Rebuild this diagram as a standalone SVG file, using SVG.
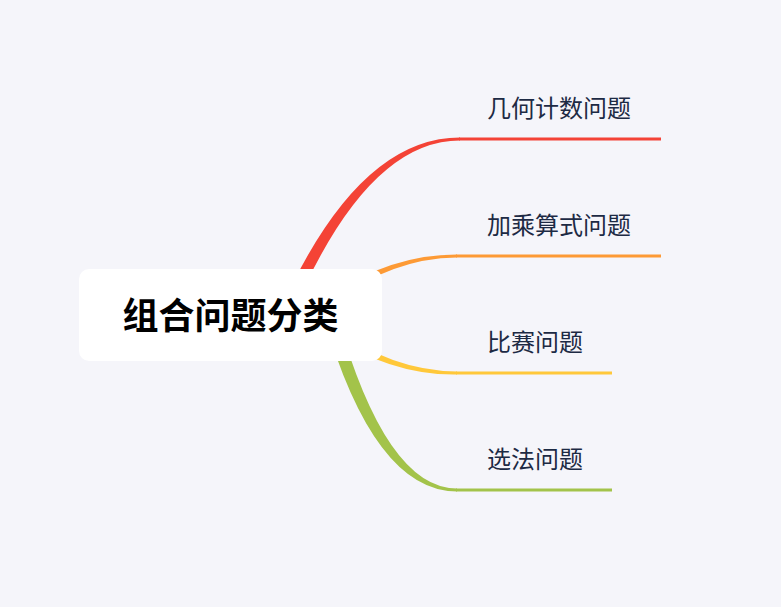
<svg xmlns="http://www.w3.org/2000/svg" width="781" height="607" viewBox="0 0 781 607">
<style>
.lbl{font-family:"Noto Sans CJK SC","Noto Sans",sans-serif;font-size:24px;fill:#1d2a44}
.title{font-family:"Noto Sans CJK SC","Noto Sans",sans-serif;font-size:36px;font-weight:bold;fill:#000}
.ln{stroke-width:3;fill:none}
</style>
<rect width="781" height="607" fill="#f5f5fa"/>
<g id="connectors">
<path d="M278 315 Q356 137.5 460 137.5 L460 140.5 Q366 140.5 292 315 Z" fill="#f44336"/>
<line class="ln" x1="459" y1="139" x2="661" y2="139" stroke="#f44336"/>
<path d="M330 296 Q390 254.5 457 254.5 L457 257.5 Q392 258 330 304 Z" fill="#fd9a35"/>
<line class="ln" x1="456" y1="256" x2="661" y2="256" stroke="#fd9a35"/>
<path d="M330 326 Q392 371 457 371.5 L457 374.5 Q390 375.5 330 334 Z" fill="#ffc83a"/>
<line class="ln" x1="456" y1="373" x2="612" y2="373" stroke="#ffc83a"/>
<path d="M323 315 Q374 491.5 457 491.5 L457 488.5 Q386 488.5 337 315 Z" fill="#a3c34a"/>
<line class="ln" x1="456" y1="490" x2="612" y2="490" stroke="#a3c34a"/>
</g>
<g id="root">
<rect x="79" y="269" width="303" height="92" rx="10" fill="#ffffff"/>
<text class="title" x="230.5" y="329" text-anchor="middle">组合问题分类</text>
</g>
<g id="n1"><text class="lbl" x="487" y="117">几何计数问题</text></g>
<g id="n2"><text class="lbl" x="487" y="234">加乘算式问题</text></g>
<g id="n3"><text class="lbl" x="487" y="351">比赛问题</text></g>
<g id="n4"><text class="lbl" x="487" y="468">选法问题</text></g>
</svg>
